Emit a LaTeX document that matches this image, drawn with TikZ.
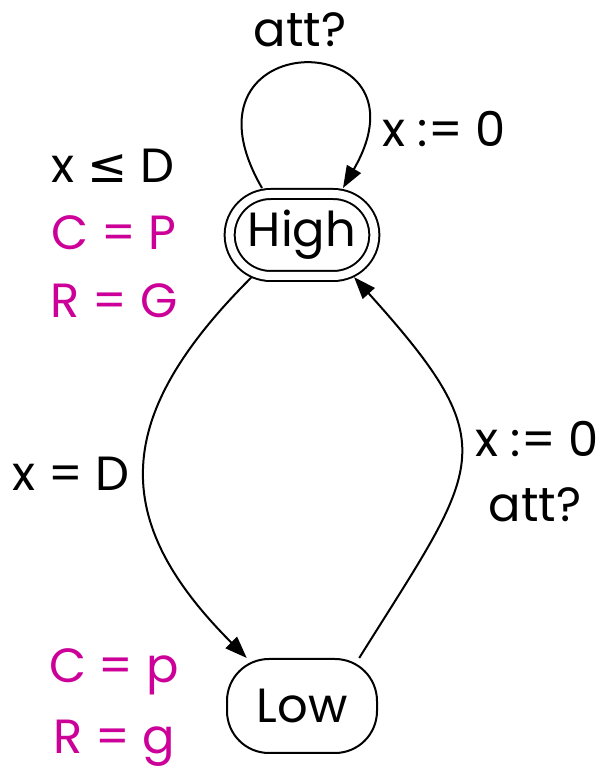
\documentclass[tikz,border=0pt]{standalone}
\usepackage{fontspec}
\setmainfont{Poppins}
\newfontfamily\symfont{DejaVu Sans}
\usetikzlibrary{arrows.meta,shapes.misc}
\definecolor{invpink}{RGB}{204,0,153}

\begin{document}
\begin{tikzpicture}[x=0.5pt, y=0.5pt,
    font=\fontsize{24}{29}\selectfont,
    edge/.style={line width=1pt, -{Triangle[length=11pt,width=8pt]}},
    lbl/.style={anchor=base, inner sep=0pt},
    inv/.style={lbl, text=invpink}]
    \def\cx{302}    % x of both locations
    \def\yHigh{533} % y of High
    \def\yLow{62}   % y of Low

    \useasboundingbox (0,0) rectangle (606,768);

    % Locations
    \node[draw, rounded rectangle, line width=1pt, double, double distance=4pt,
          minimum width=79pt, minimum height=41pt, outer sep=3pt] (High) at (\cx, \yHigh) {High};
    \node[draw, rounded corners=21pt, line width=1pt,
          minimum width=75pt, minimum height=47pt] (Low) at (\cx, \yLow) {Low};

    % Invariants and costs
    \node[lbl] (invHigh) at (113, 585) {x {\symfont ≤} D};
    \node[inv] (costHigh) at (114, 518) {C = P};
    \node[inv] (rateHigh) at (114, 451) {R = G};
    \node[inv] (costLow) at (114, 85) {C = p};
    \node[inv] (rateLow) at (114, 15) {R = g};

    % Self loop on High
    \draw[edge] ([xshift=-20pt]High.north) .. controls +(120:95pt) and +(60:95pt) .. ([xshift=20.5pt]High.north);
    \node[lbl] (loopSync) at (300, 721) {att?};
    \node[lbl] (loopReset) at (444, 621) {x := 0};

    % High -> Low
    \draw[edge] (High.220) .. controls +(225:98pt) and +(135:98pt) .. (Low.139);
    \node[lbl] (downGuard) at (71, 278) {x = D};

    % Low -> High
    \draw[edge] (Low.40) .. controls +(58:115pt) and +(312:115pt) .. (High.321);
    \node[lbl] (upReset) at (537, 311) {x := 0};
    \node[lbl] (upSync) at (535, 246) {att?};
\end{tikzpicture}
\end{document}
